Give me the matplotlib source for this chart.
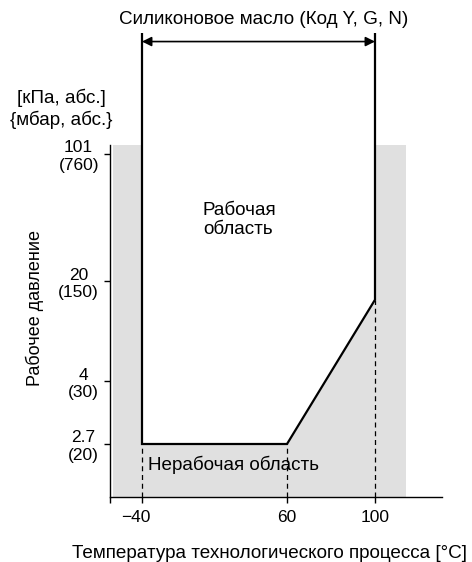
import matplotlib.pyplot as plt
import matplotlib.transforms as mtransforms
import numpy as np

plt.rcParams['font.family'] = ['Liberation Sans', 'DejaVu Sans']

# data
temp_ticks = [-40, 60, 100]
temp_labels = ['\u221240', '60', '100']
press_ticks = [2.7, 4, 20, 101]
press_labels = ['2.7\n(20)', '4\n(30)', '20\n(150)', '101\n(760)']

# working-area boundary (temperature, pressure)
bound_t = [-40, -40, 60, 100, 100]
bound_p = [200, 2.7, 2.7, 17, 200]

# schematic (non-linear) axes: value anchors -> relative position
x_vals = [-62, -40, 60, 100, 130]
x_pos = [0, 32, 177, 265, 332]
y_vals = [0, 2.7, 4, 20, 101, 200]
y_pos = [0, 53, 116, 216, 343, 464]


def piecewise(vals, pos):
    v = np.array(vals, float)
    p = np.array(pos, float)
    # extend linearly on both ends
    v = np.r_[v[0] - 1e4, v, v[-1] + 1e4]
    s0 = (p[1] - p[0]) / (v[2] - v[1])
    s1 = (p[-1] - p[-2]) / (v[-2] - v[-3])
    p = np.r_[p[0] - 1e4 * s0, p, p[-1] + 1e4 * s1]
    return (lambda x: np.interp(x, v, p)), (lambda y: np.interp(y, p, v))


fig = plt.figure(figsize=(4.72, 5.62), dpi=100)
ax = fig.add_axes([110 / 472, 65 / 562, 332 / 472, 464 / 562])
ax.set_xscale('function', functions=piecewise(x_vals, x_pos))
ax.set_yscale('function', functions=piecewise(y_vals, y_pos))
ax.set_xlim(-62, 130)
ax.set_ylim(0, 200)

grey = '#e0e0e0'
ax.fill_between([-60, 114], 0, 108, color=grey, lw=0, zorder=0)
ax.fill(bound_t, bound_p, color='white', lw=0, zorder=1)
ax.plot(bound_t, bound_p, color='black', lw=1.6, zorder=3, solid_joinstyle='miter')

# dashed drop lines
for t, p in zip(bound_t[1:4], bound_p[1:4]):
    ax.plot([t, t], [0, p], color='black', lw=0.9, ls=(0, (4, 3)), zorder=2)

ax.annotate('', xy=(-40, 193), xytext=(100, 193),
            arrowprops=dict(arrowstyle='<|-|>', color='black', lw=1.2,
                            mutation_scale=14, shrinkA=0, shrinkB=0))

for s in ['top', 'right']:
    ax.spines[s].set_visible(False)
ax.spines['left'].set_bounds(0, 108)
ax.spines['left'].set_linewidth(1.0)
ax.spines['bottom'].set_linewidth(1.0)

ax.set_xticks([-62] + temp_ticks, [''] + temp_labels)
ax.set_yticks(press_ticks, press_labels)
ax.tick_params(axis='both', direction='out', length=4, width=1.0,
               labelsize=12.5, colors='black')
ax.tick_params(axis='x', pad=5)
ax.tick_params(axis='y', pad=4)
for lbl in ax.get_yticklabels():
    lbl.set_multialignment('center')
# the minus sign hangs left of the tick in the original
lbl = ax.get_xticklabels()[1]
lbl.set_transform(lbl.get_transform() + mtransforms.ScaledTranslation(-6 / 100, 0, fig.dpi_scale_trans))

fs = 13.6
fig.text(264 / 472, 1 - 19 / 562, 'Силиконовое масло (Код Y, G, N)',
         ha='center', va='center', fontsize=fs)
fig.text(61 / 472, 1 - 98 / 562, '[кПа, абс.]', ha='center', va='center', fontsize=fs)
fig.text(61 / 472, 1 - 120 / 562, '{мбар, абс.}', ha='center', va='center', fontsize=fs)
fig.text(35 / 472, 1 - 308 / 562, 'Рабочее давление', rotation=90,
         ha='center', va='center', fontsize=13)
fig.text(203 / 472, 1 - 220 / 562, 'Рабочая\nобласть', ha='left', va='center',
         fontsize=fs)
fig.text(148 / 472, 1 - 465 / 562, 'Нерабочая область', ha='left', va='center',
         fontsize=fs)
fig.text(72 / 472, 1 - 553 / 562, 'Температура технологического процесса [°C]',
         ha='left', va='center', fontsize=fs)

fig.savefig('out.png', dpi=100)
